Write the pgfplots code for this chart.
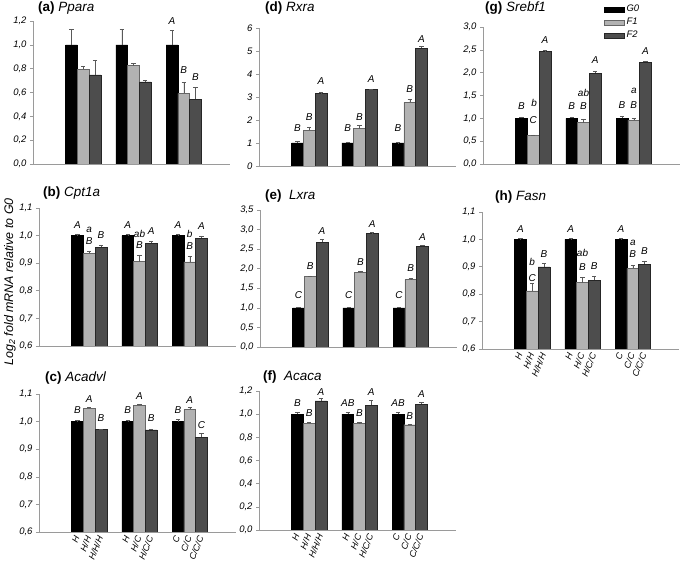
\documentclass[border=0pt]{standalone}
\usepackage{fontspec}
\setmainfont{Liberation Sans}
\usepackage{pgfplots}
\pgfplotsset{compat=1.18}

\definecolor{cFone}{HTML}{B2B2B2}
\definecolor{cFtwo}{HTML}{4D4D4D}
\definecolor{axgray}{HTML}{9A9A9A}

\pgfplotsset{
  panel/.style={
    scale only axis, width=197bp, height=138bp,
    anchor=south west,
    xmin=0, xmax=3.92,
    axis x line*=bottom, axis y line*=left,
    axis line style={-, axgray, line width=0.6pt},
    xtick=\empty,
    ytick pos=left,
    tick align=outside,
    major tick length=3bp,
    tick style={axgray, line width=0.6pt},
    ticklabel style={font=\fontsize{9.5}{10}\selectfont\itshape},
    /pgf/number format/assume math mode=true,
    yticklabel style={/pgf/number format/.cd, use comma, fixed, fixed zerofill, precision=1},
    ybar, bar width=0.234,
    clip mode=individual,
    legend image code/.code={\draw[#1] (0bp,-2.5bp) rectangle (20bp,2.5bp);},
  },
  bottompanel/.style={
    xtick={0.766,1,1.234,1.766,2,2.234,2.766,3,3.234},
    xticklabels={H,H/H,H/H/H,H,H/C,H/C/C,C,C/C,C/C/C},
    xticklabel style={rotate=68, anchor=east, inner sep=1.5pt, font=\fontsize{9}{9}\selectfont\itshape},
    major x tick style={draw=none},
  },
  errs/.style={
    error bars/.cd, y dir=plus, y explicit,
    error bar style={color=black!65, line width=0.5pt},
    error mark options={rotate=90, mark size=2.2bp, color=black!65, line width=0.5pt},
  },
  gzero/.style={fill=black, draw=black, bar shift=0pt, errs},
  fone/.style={fill=cFone, draw=black!60, bar shift=0pt, errs},
  ftwo/.style={fill=cFtwo, draw=black!85, bar shift=0pt, errs},
}
\tikzset{
  lbl/.style={font=\fontsize{10}{10}\selectfont\itshape, inner sep=0pt},
  ttl/.style={anchor=west, inner sep=0pt, font=\fontsize{13.5}{14}\selectfont},
}
\newcommand\lab[3]{\node[lbl] at (axis cs:#1,#2) {#3};}

\begin{document}
\begin{tikzpicture}
\useasboundingbox (0,0) rectangle (685bp,564bp);

% (a) Ppara
\begin{axis}[panel, at={(33bp,400bp)}, height=143bp, ymin=0, ymax=1.2, ytick={0,0.2,...,1.21}]
\addplot[gzero] coordinates {(0.766,1.0) +- (0,0.13) (1.766,1.0) +- (0,0.13) (2.766,1.0) +- (0,0.12)};
\addplot[fone] coordinates {(1,0.795) +- (0,0.023) (2,0.826) +- (0,0.02) (3,0.592) +- (0,0.092)};
\addplot[ftwo] coordinates {(1.234,0.748) +- (0,0.122) (2.234,0.689) +- (0,0.014) (3.234,0.544) +- (0,0.098)};
\lab{2.766}{1.198}{A}\lab{3}{0.786}{B}\lab{3.234}{0.733}{B}
\end{axis}

% (b) Cpt1a
\begin{axis}[panel, at={(39bp,218bp)}, ymin=0.6, ymax=1.1, ytick={0.6,0.7,...,1.11}]
\addplot[gzero] coordinates {(0.766,1.0) +- (0,0.006) (1.766,1.0) +- (0,0.006) (2.766,1.0) +- (0,0.006)};
\addplot[fone] coordinates {(1,0.936) +- (0,0.009) (2,0.906) +- (0,0.024) (3,0.905) +- (0,0.02)};
\addplot[ftwo] coordinates {(1.234,0.958) +- (0,0.007) (2.234,0.972) +- (0,0.009) (3.234,0.991) +- (0,0.008)};
\lab{0.766}{1.039}{A}\lab{1}{1.021}{a}\lab{1}{0.979}{B}\lab{1.234}{1.002}{B}
\lab{1.766}{1.039}{A}\lab{2}{1.006}{ab}\lab{2}{0.966}{B}\lab{2.234}{1.016}{A}
\lab{2.766}{1.037}{A}\lab{3}{1.006}{b}\lab{3}{0.961}{B}\lab{3.234}{1.035}{A}
\end{axis}

% (c) Acadvl
\begin{axis}[panel, bottompanel, at={(39bp,32bp)}, ymin=0.6, ymax=1.1, ytick={0.6,0.7,...,1.11}]
\addplot[gzero] coordinates {(0.766,1.0) +- (0,0.005) (1.766,1.0) +- (0,0.005) (2.766,1.0) +- (0,0.007)};
\addplot[fone] coordinates {(1,1.049) +- (0,0.003) (2,1.059) +- (0,0.004) (3,1.044) +- (0,0.008)};
\addplot[ftwo] coordinates {(1.234,0.971) +- (0,0.002) (2.234,0.970) +- (0,0.002) (3.234,0.944) +- (0,0.014)};
\lab{0.766}{1.043}{B}\lab{1}{1.083}{A}\lab{1.234}{1.013}{B}
\lab{1.766}{1.043}{B}\lab{2}{1.091}{A}\lab{2.234}{1.013}{B}
\lab{2.766}{1.043}{B}\lab{3}{1.079}{A}\lab{3.234}{0.989}{C}
\end{axis}

% (d) Rxra
\begin{axis}[panel, at={(259bp,398bp)}, ymin=0, ymax=6, ytick={0,1,...,6},
  yticklabel style={/pgf/number format/.cd, fixed, precision=0, fixed zerofill=false}]
\addplot[gzero] coordinates {(0.766,1.0) +- (0,0.06) (1.766,1.0) +- (0,0.05) (2.766,1.0) +- (0,0.02)};
\addplot[fone] coordinates {(1,1.56) +- (0,0.14) (2,1.63) +- (0,0.12) (3,2.77) +- (0,0.14)};
\addplot[ftwo] coordinates {(1.234,3.16) +- (0,0.03) (2.234,3.33) +- (0,0.02) (3.234,5.12) +- (0,0.08)};
\lab{0.766}{1.64}{B}\lab{1}{2.14}{B}\lab{1.234}{3.70}{A}
\lab{1.766}{1.64}{B}\lab{2}{2.14}{B}\lab{2.234}{3.78}{A}
\lab{2.766}{1.64}{B}\lab{3}{3.33}{B}\lab{3.234}{5.52}{A}
\end{axis}

% (e) Lxra
\begin{axis}[panel, at={(260bp,217bp)}, height=137bp, ymin=0, ymax=3.5, ytick={0,0.5,...,3.51}]
\addplot[gzero] coordinates {(0.766,1.0) +- (0,0.01) (1.766,1.0) +- (0,0.01) (2.766,1.0) +- (0,0.01)};
\addplot[fone] coordinates {(1,1.80) +- (0,0.02) (2,1.91) +- (0,0.02) (3,1.72) +- (0,0.04)};
\addplot[ftwo] coordinates {(1.234,2.68) +- (0,0.07) (2.234,2.91) +- (0,0.01) (3.234,2.57) +- (0,0.03)};
\lab{0.766}{1.32}{C}\lab{1}{2.08}{B}\lab{1.234}{2.95}{A}
\lab{1.766}{1.32}{C}\lab{2}{2.18}{B}\lab{2.234}{3.15}{A}
\lab{2.766}{1.32}{C}\lab{3}{2.02}{B}\lab{3.234}{2.81}{A}
\end{axis}

% (f) Acaca
\begin{axis}[panel, bottompanel, at={(259bp,34bp)}, height=139bp, ymin=0, ymax=1.2, ytick={0,0.2,...,1.21}]
\addplot[gzero] coordinates {(0.766,1.0) +- (0,0.017) (1.766,1.0) +- (0,0.015) (2.766,1.0) +- (0,0.015)};
\addplot[fone] coordinates {(1,0.921) +- (0,0.009) (2,0.92) +- (0,0.008) (3,0.909) +- (0,0.006)};
\addplot[ftwo] coordinates {(1.234,1.114) +- (0,0.02) (2.234,1.077) +- (0,0.043) (3.234,1.086) +- (0,0.014)};
\lab{0.766}{1.094}{B}\lab{1}{1.008}{B}\lab{1.234}{1.194}{A}
\lab{1.766}{1.094}{AB}\lab{2}{1.008}{B}\lab{2.234}{1.194}{A}
\lab{2.766}{1.094}{AB}\lab{3}{0.987}{B}\lab{3.234}{1.174}{A}
\end{axis}

% (g) Srebf1
\begin{axis}[panel, at={(483bp,400bp)}, height=137bp, ymin=0, ymax=3, ytick={0,0.5,...,3.01},
  legend style={at={(0.614,1.175)}, anchor=north west, draw=none, fill=none,
    font=\fontsize{9.5}{10}\selectfont\itshape, inner sep=0pt, row sep=1bp,
    /tikz/every even column/.append style={column sep=0pt}},
  legend cell align=left]
\addplot[gzero] coordinates {(0.766,1.0) +- (0,0.03) (1.766,1.0) +- (0,0.03) (2.766,1.0) +- (0,0.04)};
\addplot[fone] coordinates {(1,0.62) +- (0,0.02) (2,0.905) +- (0,0.085) (3,0.96) +- (0,0.04)};
\addplot[ftwo] coordinates {(1.234,2.47) +- (0,0.01) (2.234,1.99) +- (0,0.05) (3.234,2.23) +- (0,0.02)};
\legend{G0,F1,F2}
\lab{0.766}{1.26}{B}\lab{1.02}{1.34}{b}\lab{1}{0.97}{C}\lab{1.234}{2.71}{A}
\lab{1.766}{1.26}{B}\lab{2}{1.55}{ab}\lab{2}{1.26}{B}\lab{2.234}{2.27}{A}
\lab{2.766}{1.30}{B}\lab{3}{1.61}{a}\lab{3}{1.28}{B}\lab{3.234}{2.47}{A}
\end{axis}

% (h) Fasn
\begin{axis}[panel, bottompanel, at={(482bp,215bp)}, height=137bp, ymin=0.6, ymax=1.1, ytick={0.6,0.7,...,1.11}]
\addplot[gzero] coordinates {(0.766,1.0) +- (0,0.003) (1.766,1.0) +- (0,0.003) (2.766,1.0) +- (0,0.003)};
\addplot[fone] coordinates {(1,0.812) +- (0,0.028) (2,0.842) +- (0,0.02) (3,0.894) +- (0,0.013)};
\addplot[ftwo] coordinates {(1.234,0.900) +- (0,0.013) (2.234,0.851) +- (0,0.015) (3.234,0.910) +- (0,0.012)};
\lab{0.766}{1.036}{A}\lab{1}{0.919}{b}\lab{1}{0.860}{C}\lab{1.234}{0.948}{B}
\lab{1.766}{1.036}{A}\lab{2}{0.950}{ab}\lab{2}{0.898}{B}\lab{2.234}{0.901}{B}
\lab{2.766}{1.036}{A}\lab{3}{0.988}{a}\lab{3}{0.948}{B}\lab{3.234}{0.958}{B}
\end{axis}

% titles
\node[ttl] at (38bp,556bp) {\textbf{(a)} \textit{Ppara}};
\node[ttl] at (43bp,371bp) {\textbf{(b)} \textit{Cpt1a}};
\node[ttl] at (45bp,186bp) {\textbf{(c)} \textit{Acadvl}};
\node[ttl] at (265bp,556bp) {\textbf{(d)} \textit{Rxra}};
\node[ttl] at (265bp,368bp) {\textbf{(e)}\ \ \textit{Lxra}};
\node[ttl] at (263bp,187bp) {\textbf{(f)}\ \ \textit{Acaca}};
\node[ttl] at (485bp,556bp) {\textbf{(g)} \textit{Srebf1}};
\node[ttl] at (495bp,367bp) {\textbf{(h)} \textit{Fasn}};

% y label
\node[rotate=90, inner sep=0pt, font=\fontsize{12.5}{13}\selectfont\itshape] at (10bp,282bp)
  {Log\textsubscript{2} fold mRNA relative to G0};
\end{tikzpicture}
\end{document}
